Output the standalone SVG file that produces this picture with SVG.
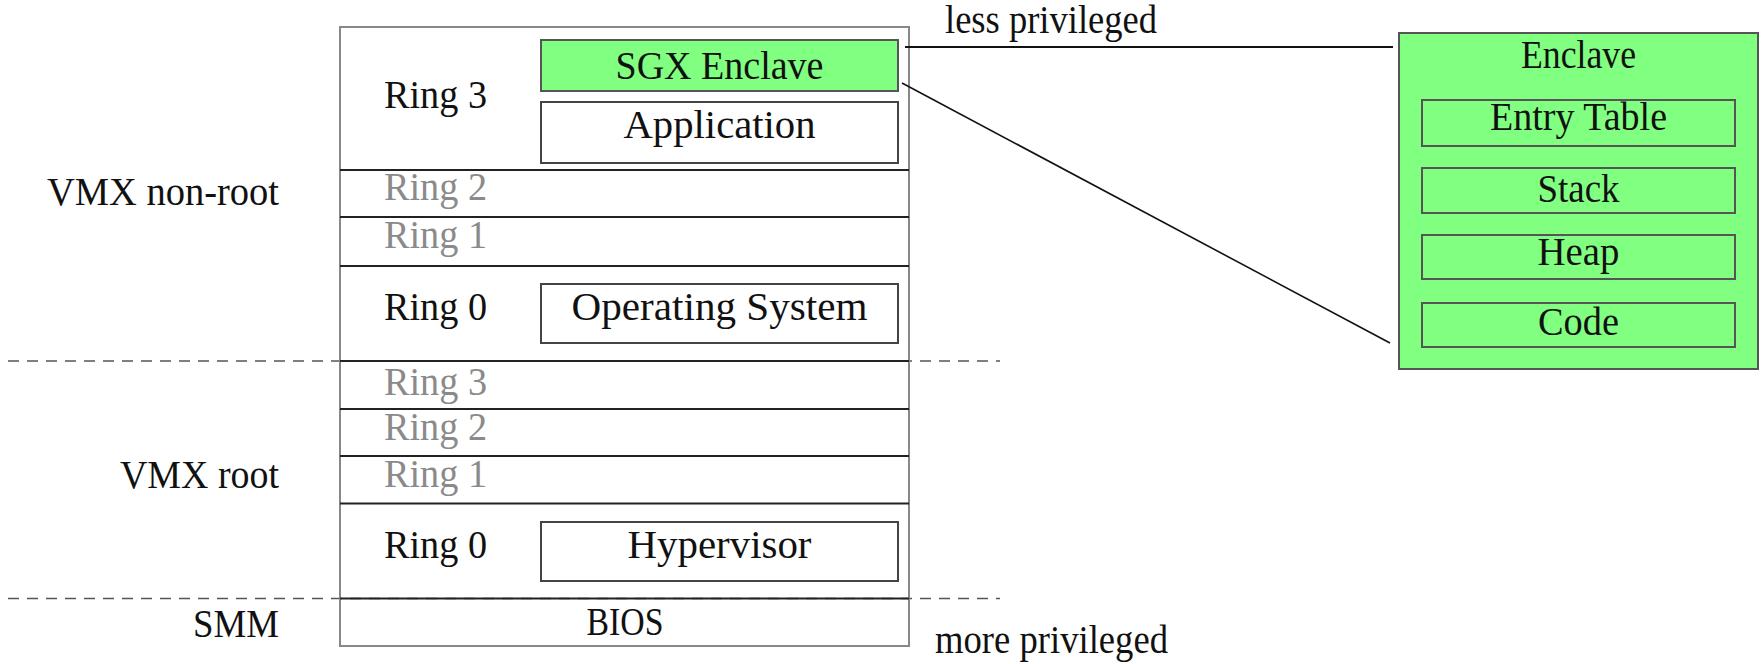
<svg xmlns="http://www.w3.org/2000/svg" width="1761" height="664" viewBox="0 0 1761 664">
<style>
text{font-family:"Liberation Serif","Times New Roman",serif;font-size:39px;fill:#111}
.g{fill:#8a8a8a}
.c{text-anchor:middle}
.r{text-anchor:end}
.box{fill:#fff;stroke:#444;stroke-width:2}
.gbox{fill:#80ff80;stroke:#555;stroke-width:2}
.div{stroke:#222;stroke-width:2}
.dash{stroke:#555;stroke-width:1.6;stroke-dasharray:11 8}
.con{stroke:#111;fill:none}
</style>
<rect width="1761" height="664" fill="#fff"/>
<g id="separators">
<line class="dash" x1="8" y1="361" x2="1000" y2="361"/>
<line class="dash" x1="8" y1="598.5" x2="1000" y2="598.5"/>
</g>
<g id="stack">
<rect x="340" y="27" width="569" height="619" fill="none" stroke="#888" stroke-width="2"/>
<line class="div" x1="340" y1="170" x2="909" y2="170"/>
<line class="div" x1="340" y1="217" x2="909" y2="217"/>
<line class="div" x1="340" y1="266" x2="909" y2="266"/>
<line class="div" x1="340" y1="361" x2="909" y2="361"/>
<line class="div" x1="340" y1="409" x2="909" y2="409"/>
<line class="div" x1="340" y1="456" x2="909" y2="456"/>
<line class="div" x1="340" y1="503.5" x2="909" y2="503.5"/>
<line class="div" x1="340" y1="598.5" x2="909" y2="598.5"/>
<text x="384" y="108" textLength="103" lengthAdjust="spacingAndGlyphs">Ring 3</text>
<text class="g" x="384" y="200" textLength="103" lengthAdjust="spacingAndGlyphs">Ring 2</text>
<text class="g" x="384" y="248" textLength="103" lengthAdjust="spacingAndGlyphs">Ring 1</text>
<text x="384" y="320" textLength="103" lengthAdjust="spacingAndGlyphs">Ring 0</text>
<text class="g" x="384" y="395" textLength="103" lengthAdjust="spacingAndGlyphs">Ring 3</text>
<text class="g" x="384" y="440" textLength="103" lengthAdjust="spacingAndGlyphs">Ring 2</text>
<text class="g" x="384" y="487" textLength="103" lengthAdjust="spacingAndGlyphs">Ring 1</text>
<text x="384" y="558" textLength="103" lengthAdjust="spacingAndGlyphs">Ring 0</text>
<text class="c" x="625" y="635" textLength="77" lengthAdjust="spacingAndGlyphs">BIOS</text>
</g>
<g id="labels">
<text class="r" x="279" y="205" textLength="232" lengthAdjust="spacingAndGlyphs">VMX non-root</text>
<text class="r" x="279" y="488" textLength="159" lengthAdjust="spacingAndGlyphs">VMX root</text>
<text class="r" x="279" y="637" textLength="86" lengthAdjust="spacingAndGlyphs">SMM</text>
<text x="945" y="33" textLength="212" lengthAdjust="spacingAndGlyphs">less privileged</text>
<text x="935" y="653" textLength="233" lengthAdjust="spacingAndGlyphs">more privileged</text>
</g>
<g id="sgx-enclave">
<rect class="gbox" x="541" y="40" width="357" height="51"/>
<text class="c" x="719.5" y="79" textLength="208" lengthAdjust="spacingAndGlyphs">SGX Enclave</text>
</g>
<g id="application">
<rect class="box" x="541" y="102" width="357" height="61"/>
<text class="c" x="719.5" y="138" textLength="192" lengthAdjust="spacingAndGlyphs">Application</text>
</g>
<g id="operating-system">
<rect class="box" x="541" y="284" width="357" height="59"/>
<text class="c" x="719.5" y="320" textLength="296" lengthAdjust="spacingAndGlyphs">Operating System</text>
</g>
<g id="hypervisor">
<rect class="box" x="541" y="522" width="357" height="59"/>
<text class="c" x="719.5" y="558" textLength="184" lengthAdjust="spacingAndGlyphs">Hypervisor</text>
</g>
<g id="enclave">
<rect class="gbox" x="1399" y="33" width="359" height="336"/>
<text class="c" x="1578.5" y="68" textLength="115" lengthAdjust="spacingAndGlyphs">Enclave</text>
<g id="entry-table">
<rect class="gbox" x="1422" y="100" width="313" height="46"/>
<text class="c" x="1578.5" y="130" textLength="177" lengthAdjust="spacingAndGlyphs">Entry Table</text>
</g>
<g id="stack-seg">
<rect class="gbox" x="1422" y="168" width="313" height="45"/>
<text class="c" x="1578.5" y="202" textLength="82" lengthAdjust="spacingAndGlyphs">Stack</text>
</g>
<g id="heap">
<rect class="gbox" x="1422" y="235" width="313" height="44"/>
<text class="c" x="1578.5" y="265" textLength="82" lengthAdjust="spacingAndGlyphs">Heap</text>
</g>
<g id="code">
<rect class="gbox" x="1422" y="303" width="313" height="44"/>
<text class="c" x="1578.5" y="335" textLength="81" lengthAdjust="spacingAndGlyphs">Code</text>
</g>
</g>
<g id="connectors">
<line class="con" x1="905" y1="47" x2="1393" y2="47" stroke-width="2.2"/>
<line class="con" x1="902" y1="83" x2="1390" y2="343" stroke-width="1.6"/>
</g>
</svg>
